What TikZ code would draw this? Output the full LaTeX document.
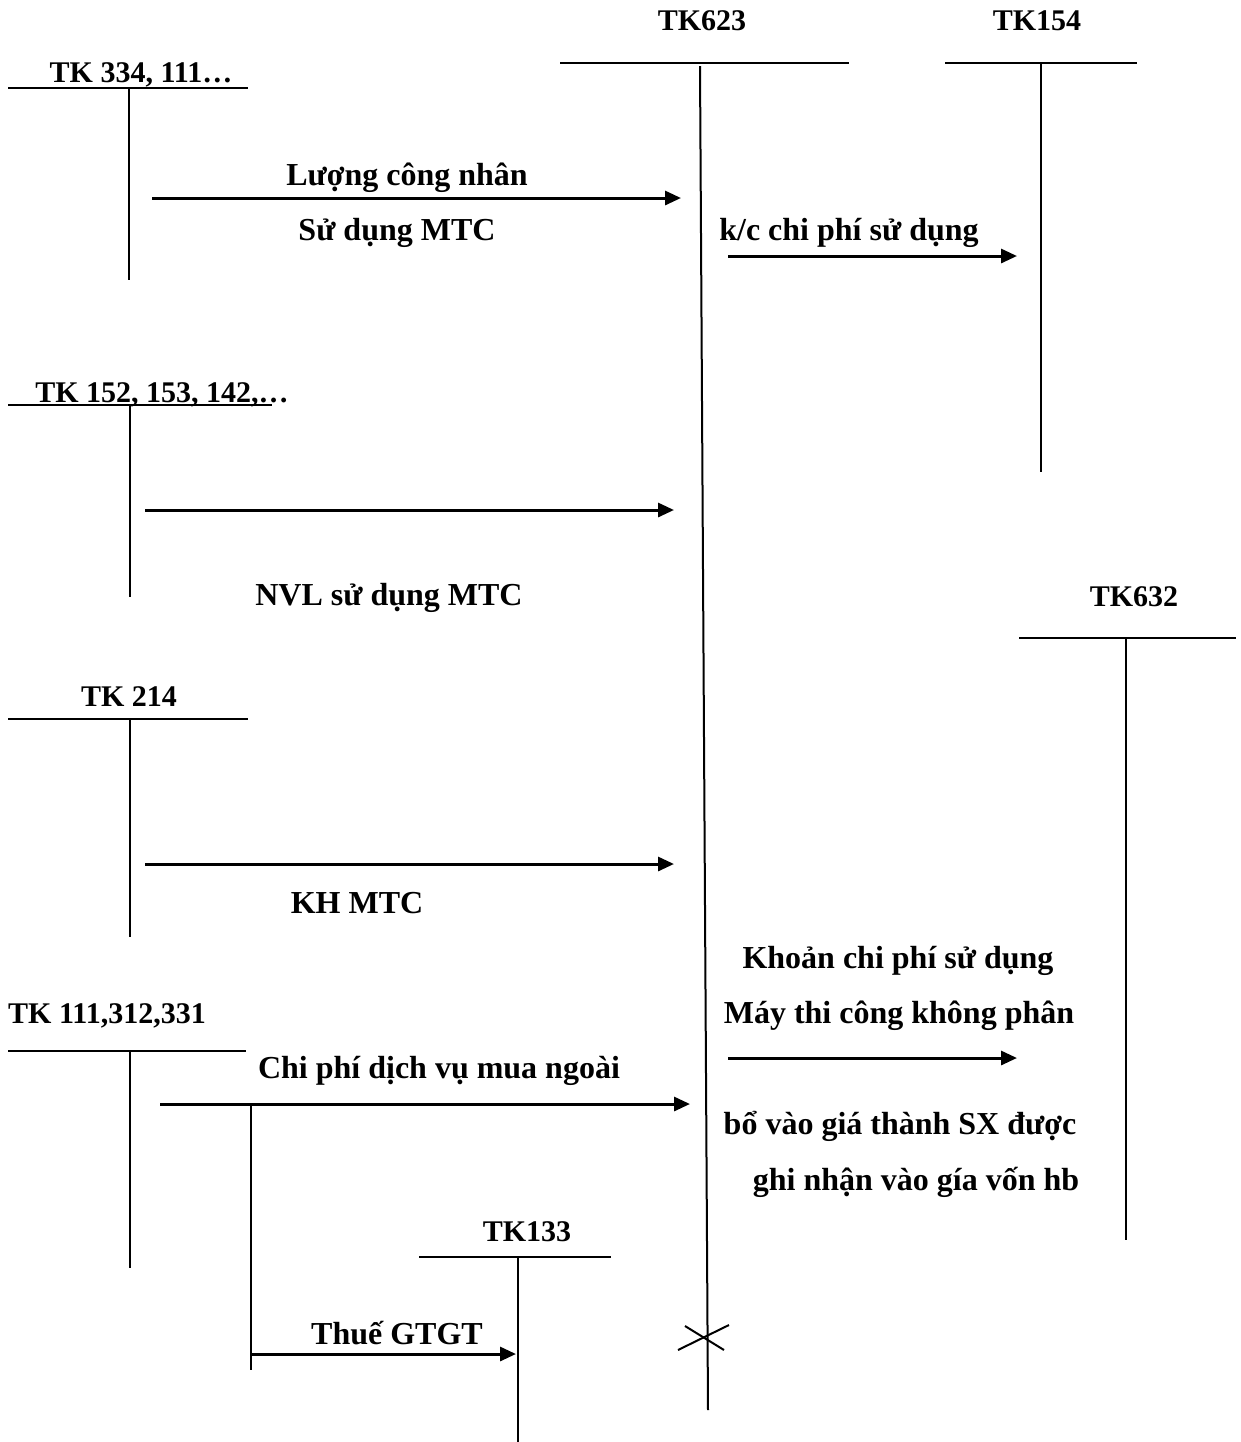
\documentclass[tikz,border=0pt]{standalone}
\usepackage{fontspec}
\setmainfont{Liberation Serif}
\usetikzlibrary{arrows.meta}
\begin{document}
\begin{tikzpicture}[x=0.5pt,y=-0.5pt,
  lbl/.style={font=\fontsize{16}{19}\selectfont\bfseries, inner sep=0pt, anchor=base},
  albl/.style={font=\fontsize{15}{18}\selectfont\bfseries, inner sep=0pt, anchor=base},
  acct/.style={line width=1pt},
  flow/.style={line width=1.5pt,-{Triangle[length=8pt,width=7pt]}}]
\useasboundingbox (0,0) rectangle (1241,1442);

% ---- account labels
\node[albl] (t623) at (702,30) {TK623};
\node[albl] (t154) at (1037,30) {TK154};
\node[albl] (t334) at (141,82) {TK 334, 111…};
\node[albl] (t152) at (162,402) {TK 152, 153, 142,…};
\node[albl] (t632) at (1134,606) {TK632};
\node[albl] (t214) at (129,706) {TK 214};
\node[albl] (t111) at (107,1023) {TK 111,312,331};
\node[albl] (t133) at (527,1241) {TK133};

% ---- flow labels
\node[lbl] (l1) at (407,185) {Lượng công nhân};
\node[lbl] (l2) at (397,240) {Sử dụng MTC};
\node[lbl] (l3) at (849,240) {k/c chi phí sử dụng};
\node[lbl] (l4) at (389,605) {NVL sử dụng MTC};
\node[lbl] (l5) at (357,913) {KH MTC};
\node[lbl] (l6) at (898,968) {Khoản chi phí sử dụng};
\node[lbl] (l7) at (899,1023) {Máy thi công không phân};
\node[lbl] (l8) at (900,1134) {bổ vào giá thành SX được};
\node[lbl] (l9) at (916,1190) {ghi nhận vào gía vốn hb};
\node[lbl] (l10) at (439,1078) {Chi phí dịch vụ mua ngoài};
\node[lbl] (l11) at (397,1344) {Thuế GTGT};

% ---- T-account coordinates
\coordinate (a623l) at (560,63);  \coordinate (a623r) at (849,63);
\coordinate (a623t) at (700,66);  \coordinate (a623b) at (708,1410);
\coordinate (a154l) at (945,63);  \coordinate (a154r) at (1137,63);
\coordinate (a154t) at (1041,63); \coordinate (a154b) at (1041,472);
\coordinate (a334l) at (8,88);    \coordinate (a334r) at (248,88);
\coordinate (a334t) at (129,88);  \coordinate (a334b) at (129,280);
\coordinate (a152l) at (8,405);   \coordinate (a152r) at (272,405);
\coordinate (a152t) at (130,405); \coordinate (a152b) at (130,597);
\coordinate (a632l) at (1019,638); \coordinate (a632r) at (1236,638);
\coordinate (a632t) at (1126,638); \coordinate (a632b) at (1126,1240);
\coordinate (a214l) at (8,719);   \coordinate (a214r) at (248,719);
\coordinate (a214t) at (130,719); \coordinate (a214b) at (130,937);
\coordinate (a111l) at (8,1051);  \coordinate (a111r) at (246,1051);
\coordinate (a111t) at (130,1051); \coordinate (a111b) at (130,1268);
\coordinate (a133l) at (419,1257); \coordinate (a133r) at (611,1257);
\coordinate (a133t) at (518,1257); \coordinate (a133b) at (518,1442);

\foreach \k in {623,154,334,152,632,214,111,133}{
  \draw[acct] (a\k l) -- (a\k r);
  \draw[acct] (a\k t) -- (a\k b);
}

% ---- flow coordinates
\coordinate (f1s) at (152,198);  \coordinate (f1e) at (681,198);
\coordinate (f2s) at (728,256);  \coordinate (f2e) at (1017,256);
\coordinate (f3s) at (145,510);  \coordinate (f3e) at (674,510);
\coordinate (f4s) at (145,864);  \coordinate (f4e) at (674,864);
\coordinate (f5s) at (728,1058); \coordinate (f5e) at (1017,1058);
\coordinate (f6s) at (160,1104); \coordinate (f6e) at (690,1104);
\coordinate (br)  at (251,1104); \coordinate (brb) at (251,1370);
\coordinate (f7s) at (251,1354); \coordinate (f7e) at (516,1354);

\draw[flow] (f1s) -- (f1e);
\draw[flow] (f2s) -- (f2e);
\draw[flow] (f3s) -- (f3e);
\draw[flow] (f4s) -- (f4e);
\draw[flow] (f5s) -- (f5e);
\draw[flow] (f6s) -- (f6e);
\draw[acct] (br) -- (brb);
\draw[flow] (f7s) -- (f7e);

% ---- closing cross on TK623
\coordinate (x1a) at (678,1350); \coordinate (x1b) at (729,1325);
\coordinate (x2a) at (685,1326); \coordinate (x2b) at (724,1350);
\draw[acct] (x1a) -- (x1b);
\draw[acct] (x2a) -- (x2b);
\end{tikzpicture}
\end{document}
